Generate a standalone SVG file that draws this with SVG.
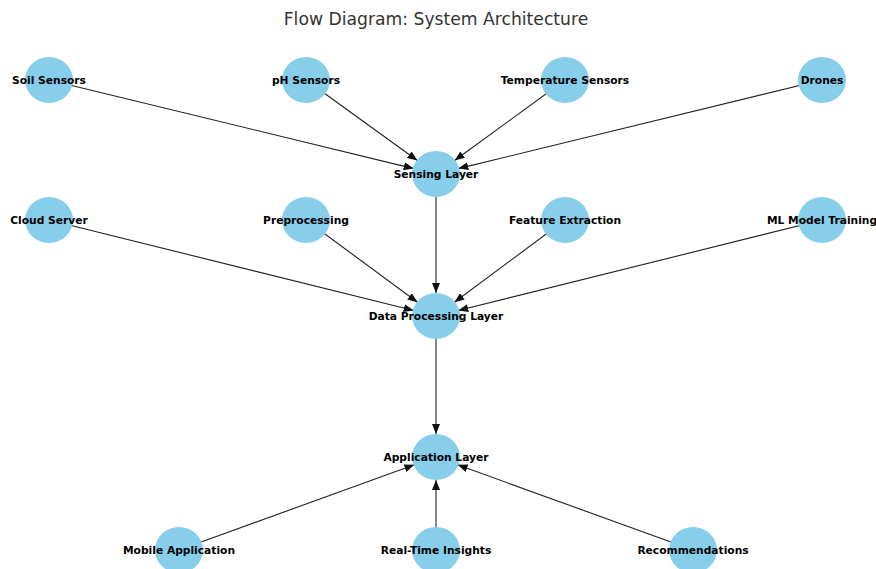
<svg xmlns="http://www.w3.org/2000/svg" width="876" height="569" viewBox="0 0 876 569">
<style>
.node ellipse{fill:#87CEEB;}
.node text{font-family:"DejaVu Sans",sans-serif;font-weight:bold;font-size:10.7px;fill:#000;text-anchor:middle;}
.edge{stroke:#222;stroke-width:1.1;fill:none;marker-end:url(#arr);}
.title{font-family:"DejaVu Sans",sans-serif;font-size:17.2px;fill:#333;text-anchor:middle;}
</style>
<defs>
<marker id="arr" markerUnits="userSpaceOnUse" markerWidth="11" markerHeight="8" refX="10" refY="4" orient="auto">
<path d="M0,0 L10,4 L0,8 z" fill="#111"/>
</marker>
</defs>
<rect width="876" height="569" fill="#fff"/>
<text class="title" x="436" y="25">Flow Diagram: System Architecture</text>
<g id="connectors">
<line class="edge" x1="49" y1="80" x2="413.7" y2="168.6"/>
<line class="edge" x1="306" y1="80" x2="417.4" y2="160.5"/>
<line class="edge" x1="565" y1="80" x2="454.6" y2="160.5"/>
<line class="edge" x1="822" y1="80" x2="458.3" y2="168.6"/>
<line class="edge" x1="436" y1="174" x2="436" y2="293"/>
<line class="edge" x1="49" y1="220" x2="413.7" y2="310.5"/>
<line class="edge" x1="306" y1="220" x2="417.5" y2="302.3"/>
<line class="edge" x1="565" y1="220" x2="454.4" y2="302.3"/>
<line class="edge" x1="822" y1="220" x2="458.3" y2="310.5"/>
<line class="edge" x1="436" y1="316" x2="436" y2="434"/>
<line class="edge" x1="179" y1="550" x2="414.4" y2="464.8"/>
<line class="edge" x1="436" y1="550" x2="436" y2="480"/>
<line class="edge" x1="693" y1="550" x2="457.6" y2="464.8"/>
</g>
<g id="soil-sensors" class="node"><ellipse cx="49" cy="80" rx="24" ry="23"/><text x="49" y="84">Soil Sensors</text></g>
<g id="ph-sensors" class="node"><ellipse cx="306" cy="80" rx="24" ry="23"/><text x="306" y="84">pH Sensors</text></g>
<g id="temperature-sensors" class="node"><ellipse cx="565" cy="80" rx="24" ry="23"/><text x="565" y="84">Temperature Sensors</text></g>
<g id="drones" class="node"><ellipse cx="822" cy="80" rx="24" ry="23"/><text x="822" y="84">Drones</text></g>
<g id="sensing-layer" class="node"><ellipse cx="436" cy="174" rx="24" ry="23"/><text x="436" y="178">Sensing Layer</text></g>
<g id="cloud-server" class="node"><ellipse cx="49" cy="220" rx="24" ry="23"/><text x="49" y="224">Cloud Server</text></g>
<g id="preprocessing" class="node"><ellipse cx="306" cy="220" rx="24" ry="23"/><text x="306" y="224">Preprocessing</text></g>
<g id="feature-extraction" class="node"><ellipse cx="565" cy="220" rx="24" ry="23"/><text x="565" y="224">Feature Extraction</text></g>
<g id="ml-model-training" class="node"><ellipse cx="822" cy="220" rx="24" ry="23"/><text x="822" y="224">ML Model Training</text></g>
<g id="data-processing-layer" class="node"><ellipse cx="436" cy="316" rx="24" ry="23"/><text x="436" y="320">Data Processing Layer</text></g>
<g id="application-layer" class="node"><ellipse cx="436" cy="457" rx="24" ry="23"/><text x="436" y="461">Application Layer</text></g>
<g id="mobile-application" class="node"><ellipse cx="179" cy="550" rx="24" ry="23"/><text x="179" y="554">Mobile Application</text></g>
<g id="real-time-insights" class="node"><ellipse cx="436" cy="550" rx="24" ry="23"/><text x="436" y="554">Real-Time Insights</text></g>
<g id="recommendations" class="node"><ellipse cx="693" cy="550" rx="24" ry="23"/><text x="693" y="554">Recommendations</text></g>
</svg>
